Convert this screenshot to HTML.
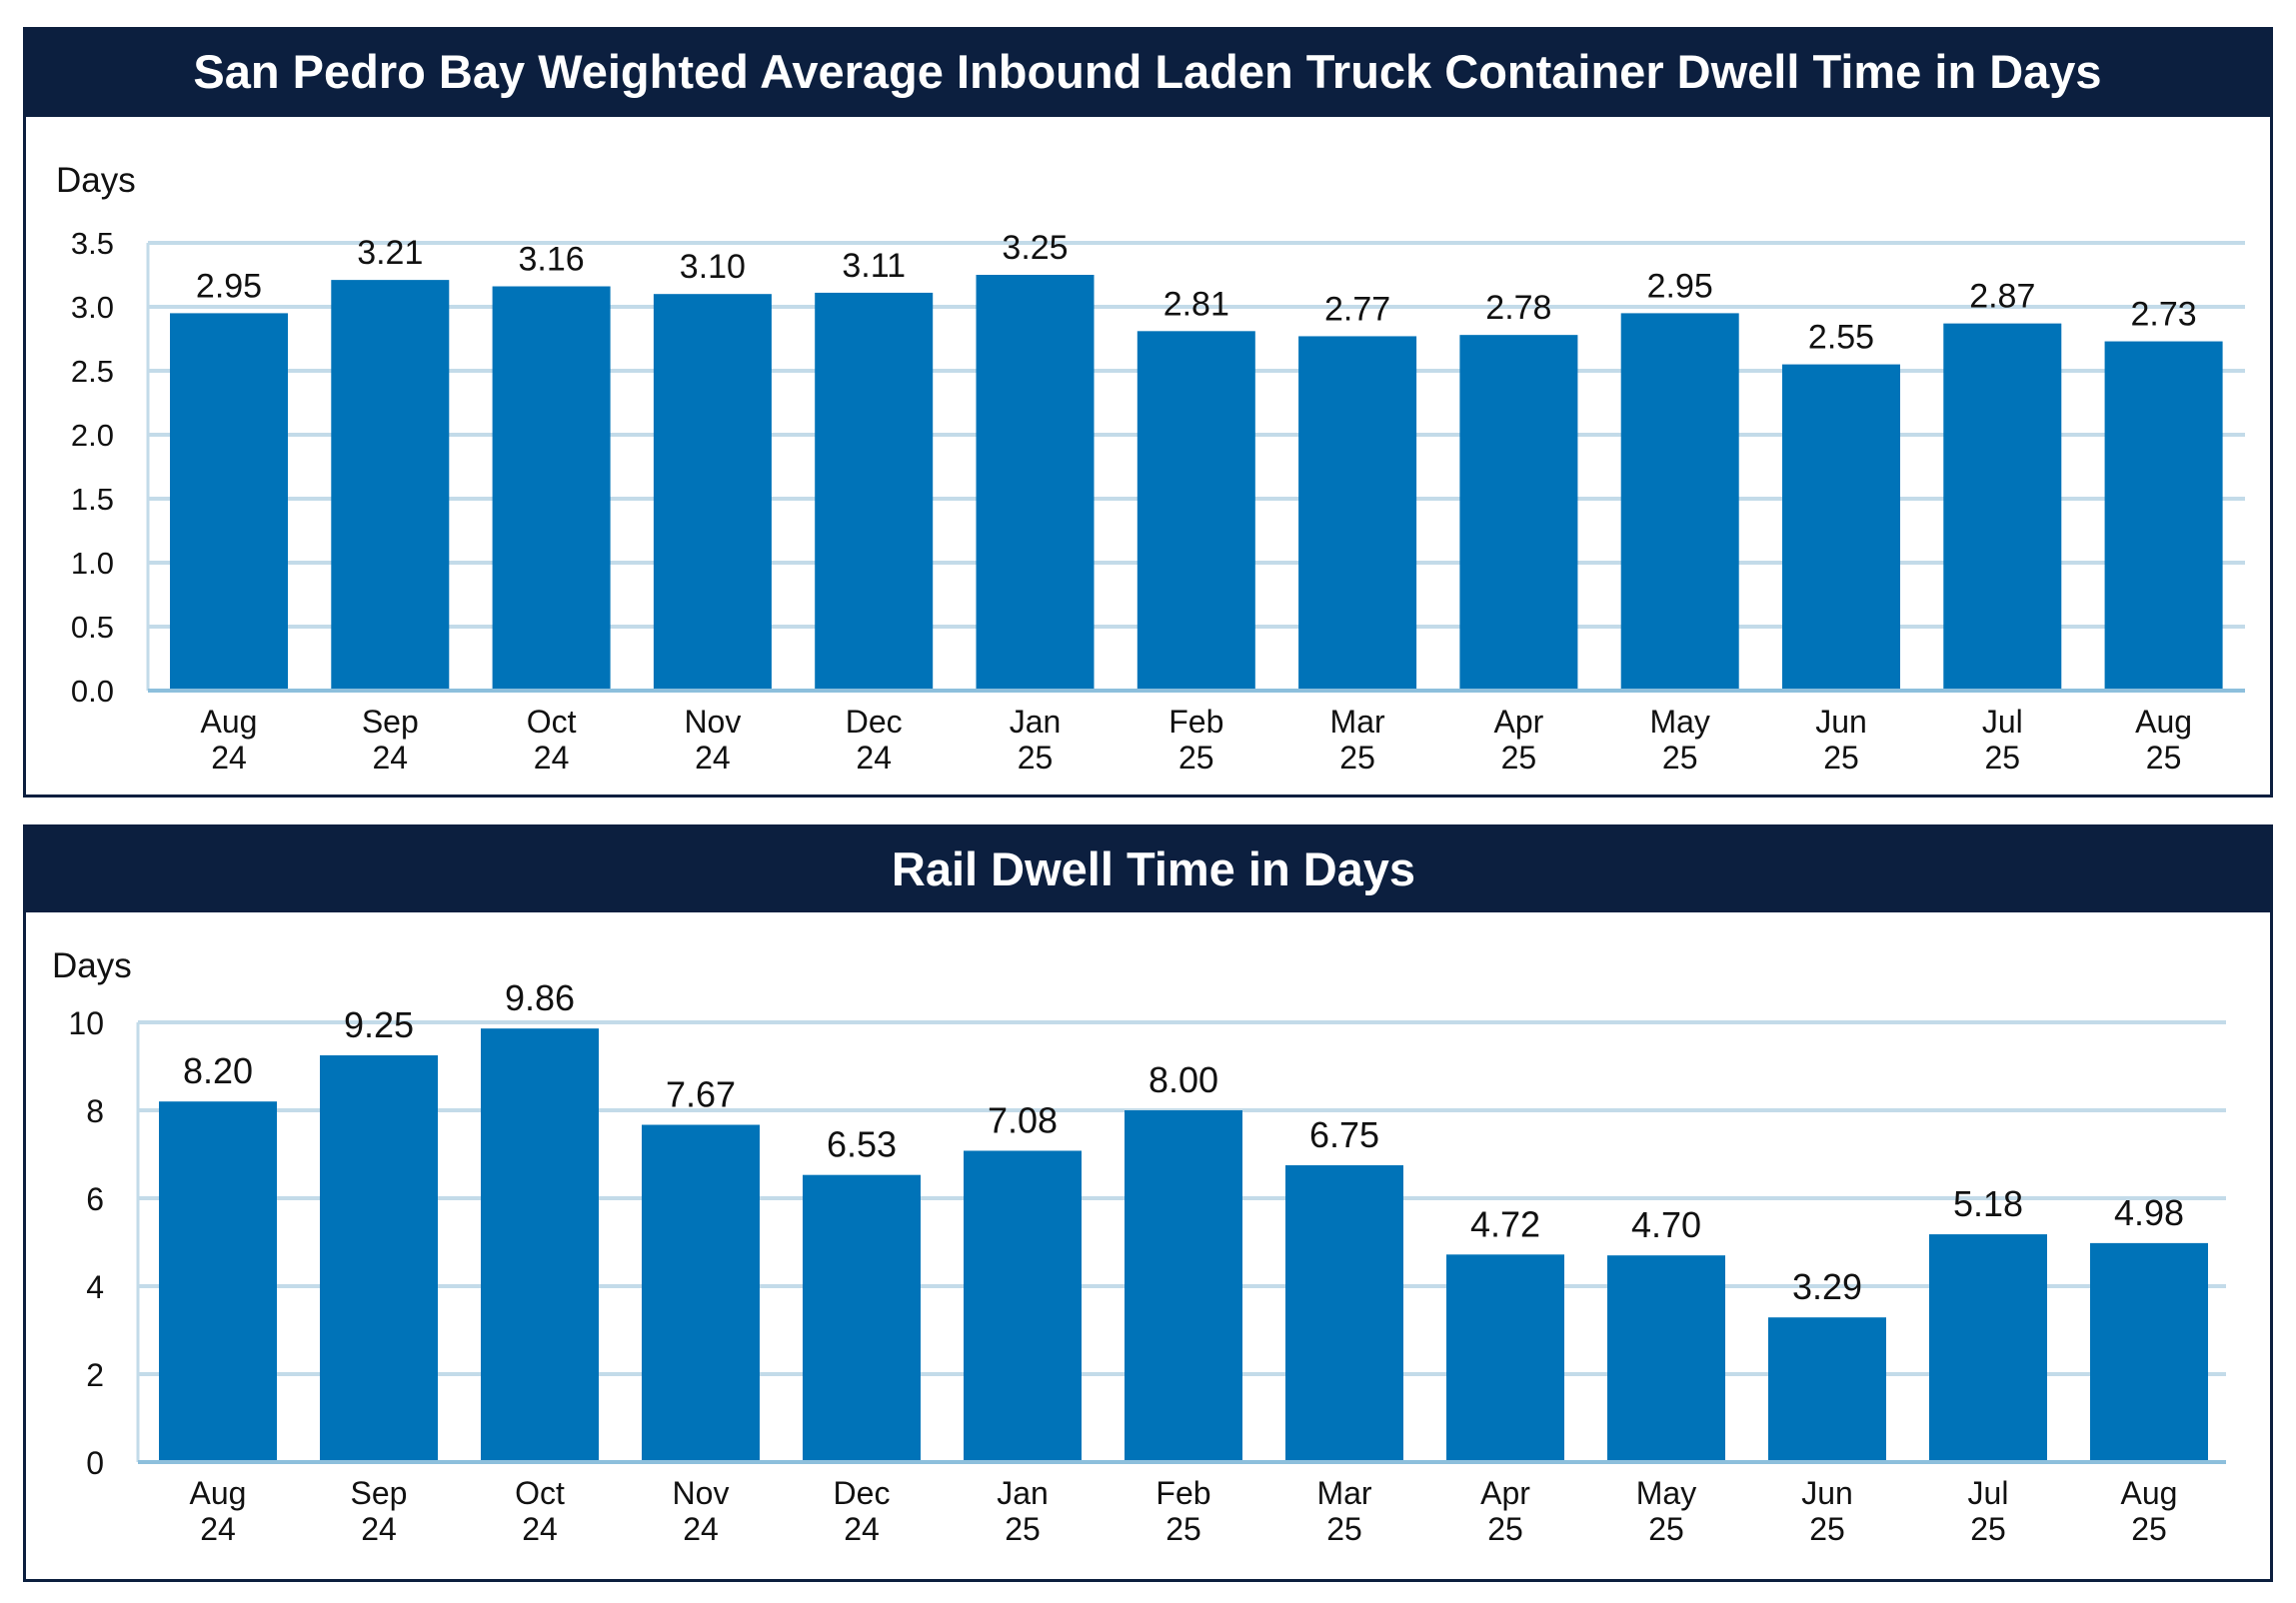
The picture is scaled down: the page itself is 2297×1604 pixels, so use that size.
<!DOCTYPE html>
<html><head><meta charset="utf-8"><style>
html,body{margin:0;padding:0;background:#fff;}
svg{display:block;}
</style></head><body>
<svg id="chart" width="2297" height="1604" xmlns="http://www.w3.org/2000/svg">
<rect x="24.5" y="28.5" width="2248" height="768" fill="#fff" stroke="#0c1f3f" stroke-width="3"/>
<rect x="23" y="27" width="2251" height="90" fill="#0c1f3f"/>
<text x="1148" y="88" text-anchor="middle" font-family="Liberation Sans, sans-serif" font-weight="bold" font-size="47" fill="#fff">San Pedro Bay Weighted Average Inbound Laden Truck Container Dwell Time in Days</text>
<text x="56" y="192" font-family="Liberation Sans Narrow, Liberation Sans, sans-serif" font-size="35" fill="#111">Days</text>
<g id="g1"></g>
<rect x="24.5" y="826.5" width="2248" height="755" fill="#fff" stroke="#0c1f3f" stroke-width="3"/>
<rect x="23" y="825" width="2251" height="88" fill="#0c1f3f"/>
<text x="1154" y="886" text-anchor="middle" font-family="Liberation Sans, sans-serif" font-weight="bold" font-size="47" fill="#fff">Rail Dwell Time in Days</text>
<text x="52" y="978" font-family="Liberation Sans Narrow, Liberation Sans, sans-serif" font-size="35" fill="#111">Days</text>
<g id="g2"></g>
</svg>
<script>
const months = ["Aug","Sep","Oct","Nov","Dec","Jan","Feb","Mar","Apr","May","Jun","Jul","Aug"];
const years = ["24","24","24","24","24","25","25","25","25","25","25","25","25"];
const truckValues = [2.95,3.21,3.16,3.10,3.11,3.25,2.81,2.77,2.78,2.95,2.55,2.87,2.73];
const truckTicks = [0,0.5,1,1.5,2,2.5,3,3.5];
const railValues = [8.20,9.25,9.86,7.67,6.53,7.08,8.00,6.75,4.72,4.70,3.29,5.18,4.98];
const railTicks = [0,2,4,6,8,10];
const NS="http://www.w3.org/2000/svg";
function mk(tag,attrs,parent,text){const e=document.createElementNS(NS,tag);for(const k in attrs)e.setAttribute(k,attrs[k]);if(text!==undefined)e.textContent=text;parent.appendChild(e);return e;}
function draw(g,cfg){
  const y=v=>cfg.y0-(v-cfg.min)/(cfg.max-cfg.min)*(cfg.y0-cfg.y1);
  const x=i=>cfg.bx0+i*cfg.step;
  cfg.ticks.forEach(t=>{
    const l=mk('line',{x1:cfg.ax,x2:cfg.axEnd,y1:y(t),y2:y(t),stroke:'#c3dbe9','stroke-width':4},g);
    
    
    const tx=mk('text',{x:cfg.tickX,y:y(t)+cfg.tickDy,'text-anchor':'end','font-family':'Liberation Sans, sans-serif','font-size':cfg.tsize,fill:'#111'},g,cfg.fmt(t));
    
    
  });
  const ax=mk('line',{x1:cfg.ax,x2:cfg.ax,y1:cfg.y1,y2:cfg.y0,stroke:'#c3dbe9','stroke-width':3},g);
  
  
  cfg.values.forEach((v,i)=>{
    const b=mk('rect',{x:x(i),y:y(v),width:cfg.bw,height:cfg.y0-y(v),fill:'#0073b8'},g);
    
    
    const cx=x(i)+cfg.bw/2;
    const vl=mk('text',{x:cx,y:y(v)-cfg.vgap,'text-anchor':'middle','font-family':cfg.vfont,'font-size':cfg.vsize,fill:'#111'},g,v.toFixed(2));
    
    
    const m=mk('text',{x:cx,y:cfg.y0+cfg.my,'text-anchor':'middle','font-family':'Liberation Sans, sans-serif','font-size':32,fill:'#111'},g,months[i]);
    
    
    const yr=mk('text',{x:cx,y:cfg.y0+cfg.yy,'text-anchor':'middle','font-family':'Liberation Sans, sans-serif','font-size':32,fill:'#111'},g,years[i]);
    
    
  });
  const base=mk('line',{x1:cfg.ax,x2:cfg.axEnd,y1:cfg.y0,y2:cfg.y0,stroke:'#8dbfdc','stroke-width':4},g);
  
  
}
draw(document.getElementById('g1'),{values:truckValues,ticks:truckTicks,min:0,max:3.5,y0:691,y1:243,ax:148,axEnd:2246,bx0:170,step:161.3,bw:118,tickX:114,tickDy:11,tsize:31,fmt:t=>t.toFixed(1),vfont:'Liberation Sans Narrow, Liberation Sans, sans-serif',vsize:34,vgap:16,my:42,yy:78});
draw(document.getElementById('g2'),{values:railValues,ticks:railTicks,min:0,max:10,y0:1463,y1:1023,ax:138,axEnd:2227,bx0:159,step:161,bw:118,tickX:104,tickDy:12,tsize:32,fmt:t=>String(t),vfont:'Liberation Sans, sans-serif',vsize:36,vgap:18,my:42,yy:78});
</script>
</body></html>
